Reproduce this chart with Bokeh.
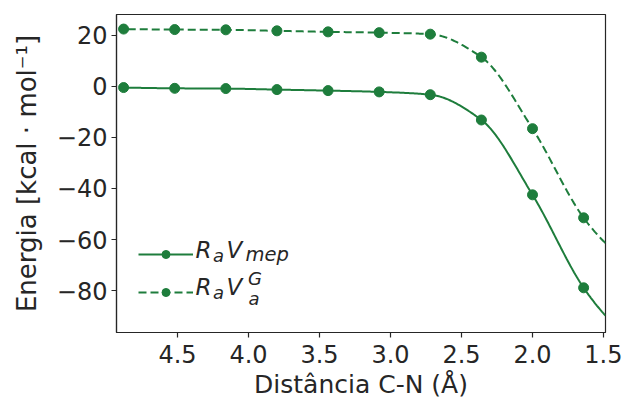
import numpy as np
from bokeh.plotting import figure
from bokeh.models import (Range1d, FixedTicker, CustomJSTickFormatter, Legend,
                          LegendItem, Label, ColumnDataSource)
from bokeh.embed import file_html
from bokeh.resources import INLINE

# ---------------- data ----------------
dist = [4.88, 4.52, 4.16, 3.80, 3.44, 3.08, 2.72, 2.36, 2.00, 1.64]
e_mep = [-0.5, -0.8, -0.9, -1.3, -1.7, -2.2, -3.3, -13.2, -42.5, -78.9]
e_vg = [22.4, 22.2, 22.1, 21.7, 21.3, 21.0, 20.4, 11.4, -16.6, -51.5]
# where the smooth curves leave the frame on the right
edge_dist = 1.486
edge_mep = -89.8
edge_vg = -61.4

x_ticks = [4.5, 4.0, 3.5, 3.0, 2.5, 2.0, 1.5]
y_ticks = [20, 0, -20, -40, -60, -80]
x_label = "Distância C-N (Å)"
y_label = "Energia [kcal · mol⁻¹]"

GREEN = "#1e7d3c"
INK = "#262626"
FONT = "DejaVu Sans"


def pchip(x, y, xs):
    x = np.asarray(x, float)
    y = np.asarray(y, float)
    o = np.argsort(x)
    x, y = x[o], y[o]
    h = np.diff(x)
    d = np.diff(y) / h
    n = len(x)
    m = np.zeros(n)
    for k in range(1, n - 1):
        if d[k - 1] * d[k] <= 0:
            m[k] = 0.0
        else:
            w1 = 2 * h[k] + h[k - 1]
            w2 = h[k] + 2 * h[k - 1]
            m[k] = (w1 + w2) / (w1 / d[k - 1] + w2 / d[k])

    def end(h0, h1, d0, d1):
        v = ((2 * h0 + h1) * d0 - h0 * d1) / (h0 + h1)
        if np.sign(v) != np.sign(d0):
            v = 0.0
        elif np.sign(d0) != np.sign(d1) and abs(v) > abs(3 * d0):
            v = 3 * d0
        return v

    m[0] = end(h[0], h[1], d[0], d[1])
    m[-1] = end(h[-1], h[-2], d[-1], d[-2])
    xs = np.asarray(xs, float)
    i = np.clip(np.searchsorted(x, xs) - 1, 0, n - 2)
    t = (xs - x[i]) / h[i]
    h00 = 2 * t**3 - 3 * t**2 + 1
    h10 = t**3 - 2 * t**2 + t
    h01 = -2 * t**3 + 3 * t**2
    h11 = t**3 - t**2
    return h00 * y[i] + h10 * h[i] * m[i] + h01 * y[i + 1] + h11 * h[i] * m[i + 1]


cx = list(dist) + [edge_dist]
xs = np.linspace(edge_dist, max(dist), 400)
curve_mep = pchip(cx, list(e_mep) + [edge_mep], xs)
curve_vg = pchip(cx, list(e_vg) + [edge_vg], xs)

pts = ColumnDataSource(dict(x=dist, mep=e_mep, vg=e_vg))
crv = ColumnDataSource(dict(x=xs, mep=curve_mep, vg=curve_vg))

p = figure(width=622, height=401, output_backend="svg", toolbar_location=None,
           x_range=Range1d(4.93, 1.486), y_range=Range1d(-96.4, 28.1),
           min_border_left=116, min_border_right=17, min_border_top=14,
           min_border_bottom=69)
p.background_fill_color = "white"
p.border_fill_color = "white"
p.outline_line_color = INK
p.outline_line_width = 1.2
p.xgrid.visible = False
p.ygrid.visible = False

l1 = p.line("x", "mep", source=crv, line_color=GREEN, line_width=2)
s1 = p.scatter("x", "mep", source=pts, size=10, fill_color=GREEN, line_color=GREEN)
l2 = p.line("x", "vg", source=crv, line_color=GREEN, line_width=2, line_dash="8 4")
s2 = p.scatter("x", "vg", source=pts, size=10, fill_color=GREEN, line_color=GREEN)

for ax in (p.xaxis[0], p.yaxis[0]):
    ax.axis_line_color = INK
    ax.axis_line_width = 1.2
    ax.major_tick_line_color = INK
    ax.major_tick_line_width = 1.2
    ax.major_tick_out = 5
    ax.major_tick_in = 0
    ax.minor_tick_line_color = None
    ax.major_label_text_font = FONT
    ax.major_label_text_font_size = "24px"
    ax.major_label_text_color = INK
    ax.axis_label_text_font = FONT
    ax.axis_label_text_color = INK
    ax.axis_label_text_font_style = "normal"

p.xaxis.axis_label_text_font_size = "25px"
p.yaxis.axis_label_text_font_size = "26px"
p.xaxis.ticker = FixedTicker(ticks=x_ticks)
p.yaxis.ticker = FixedTicker(ticks=y_ticks)
p.xaxis.formatter = CustomJSTickFormatter(code="return tick.toFixed(1);")
p.yaxis.formatter = CustomJSTickFormatter(
    code="return tick < 0 ? '\u2212' + Math.abs(tick) : String(tick);")
p.xaxis.axis_label = x_label
p.yaxis.axis_label = y_label
p.xaxis.major_label_standoff = 7
p.xaxis.axis_label_standoff = 4
p.yaxis.major_label_standoff = 4
p.yaxis.axis_label_standoff = 12

legend = Legend(items=[LegendItem(label=" ", renderers=[l1, s1]),
                       LegendItem(label=" ", renderers=[l2, s2])],
                location=(22, 30), padding=0, margin=0, spacing=18,
                glyph_width=55, glyph_height=20, label_height=20,
                label_width=0, label_standoff=0, label_text_font_size="1px",
                background_fill_alpha=0, border_line_alpha=0)
p.add_layout(legend)

FL = 116  # reference frame left (page px)


def txt(s, X, up, size):
    px = float(size.replace("px", ""))
    p.add_layout(Label(x=X - FL, y=up + 0.4 * px + 3, x_units="screen",
                       y_units="screen", text=s, text_font=FONT,
                       text_font_size=size, text_font_style="italic",
                       text_color=INK, text_baseline="alphabetic",
                       text_align="left"))


big, small = "23px", "18px"
txt("R", 195, 70.7, big)
txt("a", 212.5, 67.3, small)
txt("V", 226, 70.7, big)
txt("mep", 245, 67.3, "19.5px")
txt("R", 195, 33, big)
txt("a", 212.5, 29.7, small)
txt("V", 226, 33, big)
txt("G", 247.5, 44, small)
txt("a", 248, 24, small)

open("out.html", "w").write(file_html(p, INLINE))
